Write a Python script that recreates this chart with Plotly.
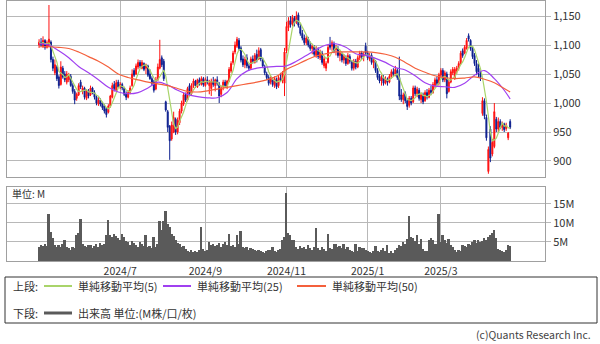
import pandas as pd
import plotly.graph_objects as go

# ---------------- data ----------------
HOLIDAYS = ["2024-05-03", "2024-05-06", "2024-07-15", "2024-08-12", "2024-09-16", "2024-09-23",
            "2024-10-14", "2024-11-04", "2024-12-31", "2025-01-01", "2025-01-02", "2025-01-03",
            "2025-01-13", "2025-02-11", "2025-02-24", "2025-03-20"]
DATES = [d for d in pd.bdate_range("2024-05-01", "2025-04-22") if d.strftime("%Y-%m-%d") not in HOLIDAYS]

OPEN = [1100,1105,1098,1108,1096,1098,1105,1075,1052,1062,1045,1032,1060,1050,1036,1040,1046,1030,1020,1008,
        1014,1036,1020,1025,1008,1020,1014,1026,1018,1010,998,1005,1000,995,990,984,995,1010,1032,1022,
        1036,1028,1032,1025,1015,1010,1018,1030,1056,1050,1062,1070,1060,1068,1060,1064,1050,1042,1036,1024,
        1040,1060,1078,1072,1002,985,960,938,950,972,950,966,986,998,1015,1005,1030,1016,1030,1038,
        1028,1040,1032,1042,1030,1040,1030,1025,1036,1030,1040,1032,1015,1028,1036,1028,1038,1055,1070,1088,
        1098,1108,1095,1076,1066,1078,1064,1060,1076,1070,1084,1076,1092,1074,1062,1050,1044,1036,1040,1030,
        1040,1030,1042,1038,1034,1090,1130,1142,1136,1146,1140,1152,1132,1120,1112,1104,1110,1100,1094,1096,
        1082,1092,1078,1086,1064,1060,1070,1100,1098,1102,1092,1094,1082,1084,1074,1078,1068,1080,1070,1060,
        1072,1062,1078,1086,1080,1098,1086,1076,1082,1070,1072,1056,1046,1038,1044,1034,1040,1036,1046,1054,
        1050,1056,1044,1014,1006,1016,1004,996,1008,1002,1026,1016,1022,1006,1014,1004,1018,1010,1022,1018,
        1030,1040,1034,1048,1056,1040,1050,1020,1036,1052,1042,1056,1060,1068,1090,1086,1094,1116,1108,1094,
        1082,1068,1060,1050,982,1004,975,882,955,912,925,972,955,968,958,964,956,940,968]
HIGH = [1110,1112,1115,1110,1108,1169,1108,1080,1075,1065,1048,1072,1064,1055,1055,1052,1050,1034,1024,1018,
        1034,1040,1030,1028,1024,1024,1030,1028,1022,1014,1010,1008,1002,998,993,998,1014,1035,1038,1040,
        1040,1036,1035,1028,1020,1022,1030,1058,1060,1068,1075,1074,1074,1070,1068,1066,1058,1046,1040,1045,
        1068,1109,1082,1076,1004,988,962,968,985,975,975,990,1004,1018,1018,1028,1034,1034,1042,1040,
        1042,1044,1046,1045,1044,1046,1040,1042,1045,1042,1046,1036,1030,1040,1040,1040,1062,1072,1090,1106,
        1114,1112,1098,1082,1080,1084,1068,1080,1082,1086,1092,1096,1095,1078,1066,1054,1048,1046,1044,1046,
        1044,1048,1052,1055,1095,1140,1148,1150,1152,1150,1158,1156,1136,1126,1118,1116,1114,1106,1102,1100,
        1098,1096,1092,1090,1080,1072,1100,1114,1108,1106,1100,1098,1090,1088,1084,1082,1086,1084,1074,1076,
        1076,1082,1090,1090,1088,1104,1090,1086,1086,1078,1074,1060,1050,1048,1048,1046,1044,1050,1058,1060,
        1064,1060,1080,1024,1018,1020,1008,1012,1012,1030,1030,1028,1026,1018,1018,1022,1024,1026,1030,1036,
        1044,1046,1052,1060,1060,1056,1054,1040,1058,1062,1062,1064,1072,1090,1094,1100,1112,1120,1110,1098,
        1086,1074,1068,1056,1010,1008,980,925,960,938,1000,976,975,972,968,966,966,950,972]
LOW = [1095,1098,1095,1092,1094,1096,1070,1055,1048,1038,1025,1030,1042,1036,1032,1036,1028,1016,998,1004,
       1012,1024,1015,1006,1005,1008,1012,1015,1006,996,995,994,988,982,975,982,992,1008,1020,1020,
       1026,1024,1022,1012,1005,1008,1015,1028,1045,1048,1058,1060,1058,1055,1050,1045,1040,1030,1018,1022,
       1038,1058,1062,1038,985,950,902,935,948,945,946,962,982,995,1002,1003,1012,1014,1026,1026,
       1026,1030,1030,1028,1028,1032,1015,1012,1028,1020,1030,1000,1010,1022,1026,1024,1036,1052,1066,1084,
       1095,1090,1070,1062,1060,1060,1056,1058,1068,1068,1070,1074,1072,1060,1048,1040,1030,1032,1028,1026,
       1024,1026,1036,1034,1012,1086,1124,1130,1132,1132,1136,1130,1116,1108,1100,1100,1096,1090,1084,1080,
       1078,1076,1074,1066,1060,1055,1068,1092,1090,1086,1082,1078,1072,1070,1068,1064,1066,1068,1056,1056,
       1058,1060,1074,1076,1072,1082,1074,1072,1066,1060,1052,1040,1034,1030,1030,1032,1030,1034,1042,1046,
       1046,1040,1005,1002,998,1000,988,992,996,1000,1012,1010,1004,1000,998,1002,1006,1008,1014,1016,
       1026,1030,1030,1044,1036,1036,1008,1018,1034,1048,1040,1050,1056,1066,1078,1084,1092,1106,1090,1076,
       1064,1048,1044,1038,978,972,935,878,898,908,922,950,950,955,952,950,952,936,955]
CLOSE = [1105,1100,1108,1096,1104,1110,1075,1060,1066,1042,1030,1062,1045,1040,1050,1048,1030,1020,1005,1015,
         1030,1028,1026,1010,1020,1012,1026,1018,1010,1000,1005,998,992,986,980,995,1012,1030,1025,1035,
         1028,1032,1026,1015,1010,1018,1026,1050,1048,1064,1070,1064,1070,1058,1066,1048,1042,1034,1022,1040,
         1062,1075,1066,1042,988,958,935,962,975,950,970,986,1000,1014,1005,1025,1016,1030,1038,1030,
         1040,1034,1042,1032,1040,1036,1035,1038,1032,1040,1034,1012,1026,1036,1030,1038,1058,1068,1086,1100,
         1110,1094,1074,1066,1075,1064,1060,1076,1072,1082,1074,1090,1076,1064,1052,1044,1034,1042,1032,1042,
         1028,1044,1040,1050,1088,1132,1142,1135,1148,1138,1150,1134,1120,1112,1104,1112,1100,1094,1098,1084,
         1094,1080,1088,1070,1076,1068,1096,1096,1104,1090,1096,1082,1086,1074,1080,1068,1082,1072,1060,1072,
         1062,1078,1086,1080,1084,1086,1078,1082,1070,1074,1056,1044,1038,1044,1034,1042,1036,1046,1054,1050,
         1058,1044,1012,1006,1014,1004,994,1008,1000,1026,1016,1024,1008,1014,1002,1018,1010,1022,1018,1032,
         1040,1034,1048,1056,1040,1052,1016,1036,1054,1058,1058,1060,1068,1086,1082,1096,1108,1110,1094,1080,
         1068,1054,1050,1044,1004,978,940,920,905,932,985,955,968,958,964,954,962,948,958]
VOLUME = [3.8,4.2,3.9,4.6,4.0,12.3,7.7,6.0,4.2,3.8,
          4.1,3.6,4.4,5.5,3.7,3.4,3.0,3.8,3.3,6.8,
          7.3,11.0,4.6,4.0,3.7,4.3,4.1,3.5,3.9,4.4,
          3.6,4.8,4.2,4.6,6.9,10.8,6.8,6.3,7.0,6.5,
          6.0,5.6,7.2,6.4,5.3,5.0,4.1,5.2,4.8,4.3,
          3.6,5.1,4.4,3.9,6.8,3.8,4.0,3.5,6.4,3.7,
          4.5,10.4,8.2,10.6,13.2,9.6,9.0,7.0,6.6,5.4,
          4.8,4.4,3.8,4.0,3.2,2.6,2.4,2.9,2.3,2.7,
          2.4,3.0,9.0,3.1,2.6,3.0,4.9,4.1,4.6,4.0,
          4.3,4.8,3.8,4.4,5.0,4.2,7.0,3.9,4.2,3.6,
          6.8,4.5,7.9,3.8,3.3,3.6,2.9,3.4,3.2,3.0,
          2.6,2.9,2.7,2.3,2.1,2.5,2.9,3.0,3.8,2.6,
          2.4,2.8,3.1,5.5,6.4,18.0,7.4,6.9,5.5,5.4,
          3.6,3.2,3.9,3.4,3.7,3.1,4.2,3.5,3.0,3.6,
          8.8,3.4,3.0,3.7,3.2,2.6,7.0,3.5,3.2,4.4,
          4.5,3.8,4.0,3.4,4.4,3.1,3.6,2.8,2.5,2.4,
          4.6,2.5,3.6,3.4,3.3,3.0,2.6,2.3,2.2,2.6,
          4.0,2.7,2.4,2.9,3.3,2.6,4.1,2.1,2.5,2.2,
          3.0,3.4,4.3,4.0,5.1,4.5,5.8,11.7,6.3,6.0,
          5.2,6.8,4.6,5.8,3.2,2.6,2.5,5.6,6.1,5.4,
          4.4,4.6,12.3,5.0,6.8,5.4,4.8,5.9,4.2,3.6,
          2.8,2.4,3.0,2.6,4.2,4.0,3.8,4.6,4.3,5.0,
          5.4,4.8,5.6,5.0,5.2,6.0,5.4,6.2,6.8,7.4,
          8.2,6.0,3.2,2.8,2.6,2.4,2.8,4.2,4.0]

# moving averages every 5 sessions (and the last session)
MA25 = [1102,1100,1090,1078,1063,1052,1040,1027,1019,1016,1018,1026,1036,1031,1022,1015,1011,1009,1009,1018,
        1042,1055,1060,1062,1063,1064,1072,1082,1092,1100,1102,1096,1085,1082,1077,1070,1061,1057,1047,1035,
        1029,1028,1027,1034,1048,1056,1042,1022,1007]
MA50 = [1097,1097,1096,1094,1088,1080,1072,1062,1050,1044,1040,1036,1033,1030,1025,1020,1019,1021,1024,1027,
        1030,1033,1036,1040,1046,1058,1066,1074,1081,1085,1088,1088,1088,1088,1087,1084,1079,1070,1060,1053,
        1047,1044,1042,1043,1045,1041,1035,1025,1019]
TICK_MONTHS = ["2024-07", "2024-09", "2024-11", "2025-01", "2025-03"]
TICK_LABELS = ["2024/7", "2024/9", "2024/11", "2025/1", "2025/3"]

# ---------------- build ----------------
N = len(DATES)
xi = list(range(N))
ma_x = list(range(0, N, 5)) + [N - 1]
ma5 = pd.Series(CLOSE).rolling(5, min_periods=1).mean().tolist()
tickvals = [next(i for i, d in enumerate(DATES) if d.strftime("%Y-%m") == m) for m in TICK_MONTHS]

W, H = 600, 344
def px(x): return x / W
def py(y): return 1 - y / H

FONT = "Noto Sans CJK JP, Noto Sans, sans-serif"
RED = "#ff1010"
BLUE = "#0c1f8f"
GRID = "#b8b8b8"
GREEN_MA = "#a9d46a"
PURPLE_MA = "#a040f0"
RED_MA = "#f4603c"
VOLC = "#5a5a5a"

fig = go.Figure()
fig.add_trace(go.Candlestick(
    x=xi, open=OPEN, high=HIGH, low=LOW, close=CLOSE,
    increasing=dict(line=dict(color=RED, width=1), fillcolor=RED),
    decreasing=dict(line=dict(color=BLUE, width=1), fillcolor=BLUE),
    whiskerwidth=0, showlegend=False, hoverinfo="skip", xaxis="x", yaxis="y"))
fig.add_trace(go.Scatter(x=xi, y=ma5, mode="lines", line=dict(color=GREEN_MA, width=1.2),
                         showlegend=False, hoverinfo="skip", xaxis="x", yaxis="y"))
fig.add_trace(go.Scatter(x=ma_x, y=MA25, mode="lines", line=dict(color=PURPLE_MA, width=1.2, shape="spline"),
                         showlegend=False, hoverinfo="skip", xaxis="x", yaxis="y"))
fig.add_trace(go.Scatter(x=ma_x, y=MA50, mode="lines", line=dict(color=RED_MA, width=1.2, shape="spline"),
                         showlegend=False, hoverinfo="skip", xaxis="x", yaxis="y"))
fig.add_trace(go.Bar(x=xi, y=VOLUME, marker=dict(color=VOLC, line=dict(width=0)),
                     showlegend=False, hoverinfo="skip", xaxis="x2", yaxis="y2"))

xrange = [-16.2, 255.6]
xdom = [px(7), px(545)]
axis_common = dict(showgrid=True, gridcolor=GRID, gridwidth=1, zeroline=False,
                   showline=True, linecolor="#a0a0a0", linewidth=1, mirror=True)

fig.update_layout(
    width=W, height=H,
    margin=dict(l=0, r=0, t=0, b=0),
    paper_bgcolor="white", plot_bgcolor="white",
    hovermode=False, bargap=0,
    font=dict(family=FONT, size=11, color="#333333"),
    xaxis=dict(domain=xdom, range=xrange, tickvals=tickvals, showticklabels=False,
               rangeslider=dict(visible=False), anchor="y", ticks="", **axis_common),
    yaxis=dict(domain=[py(177), py(1)], range=[872.4, 1175.9], side="right",
               tickvals=[900, 950, 1000, 1050, 1100, 1150], tickformat=",",
               ticks="outside", ticklen=5, tickcolor=GRID, anchor="x",
               tickfont=dict(size=11, color="#333333"), **axis_common),
    xaxis2=dict(domain=xdom, range=xrange, tickvals=tickvals, ticktext=TICK_LABELS,
                anchor="y2", ticks="", tickfont=dict(size=10.5, color="#333333"), **axis_common),
    yaxis2=dict(domain=[py(261), py(187)], range=[0, 19.45], side="right",
                tickvals=[5, 10, 15], ticktext=["5M", "10M", "15M"],
                ticks="outside", ticklen=5, tickcolor=GRID, anchor="x2",
                tickfont=dict(size=11, color="#333333"), **axis_common),
)

shapes = [
    dict(type="rect", xref="paper", yref="paper", x0=px(5), x1=px(597), y0=py(323), y1=py(277),
         line=dict(color="#333333", width=1), fillcolor="rgba(0,0,0,0)"),
    dict(type="line", xref="paper", yref="paper", x0=px(44), x1=px(72), y0=py(286), y1=py(286),
         line=dict(color=GREEN_MA, width=2)),
    dict(type="line", xref="paper", yref="paper", x0=px(163), x1=px(191), y0=py(286), y1=py(286),
         line=dict(color=PURPLE_MA, width=2)),
    dict(type="line", xref="paper", yref="paper", x0=px(297), x1=px(326), y0=py(286), y1=py(286),
         line=dict(color=RED_MA, width=2)),
    dict(type="line", xref="paper", yref="paper", x0=px(44), x1=px(72), y0=py(313), y1=py(313),
         line=dict(color=VOLC, width=3)),
]
fig.update_layout(shapes=shapes)

def txt(x, y, s, size=11, anchor="left", color="#333333"):
    fig.add_annotation(xref="paper", yref="paper", x=px(x), y=py(y), text=s, showarrow=False,
                       xanchor=anchor, yanchor="middle", font=dict(size=size, color=color, family=FONT))

txt(11, 286, "上段:")
txt(76, 286, "単純移動平均(5)")
txt(195, 286, "単純移動平均(25)")
txt(330, 286, "単純移動平均(50)")
txt(11, 313, "下段:")
txt(76, 313, "出来高 単位:(M株/口/枚)")
txt(10, 193, "単位: M", size=10)
txt(593, 334, "(c)Quants Research Inc.", size=10.5, anchor="right", color="#444444")

fig.write_html("out.html")
